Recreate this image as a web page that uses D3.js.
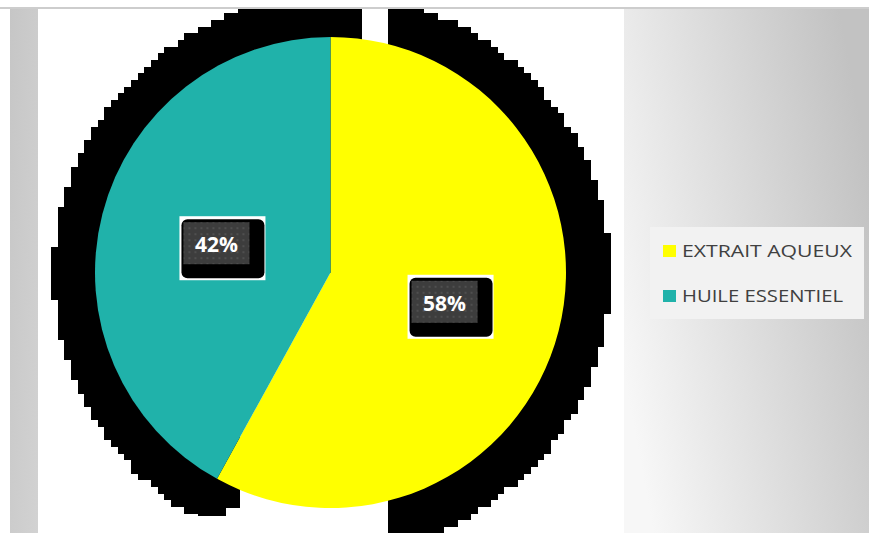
<!DOCTYPE html>
<html>
<head>
<meta charset="utf-8">
<script src="https://cdn.jsdelivr.net/npm/d3@7"></script>
<style>
  html, body { margin: 0; padding: 0; background: #fff; }
  svg { display: block; }
</style>
</head>
<body>
<svg width="869" height="533"></svg>
<script>
// chart data
const categories = ["EXTRAIT AQUEUX", "HUILE ESSENTIEL"];
const values = [58, 42];
const colors = ["#ffff00", "#20b2aa"];

const W = 869, H = 533;
const $svg = d3.select('svg');
const defs = $svg.append('defs');

// background gradient on the right side
const grad = defs.append('linearGradient').attr('id', 'bg')
    .attr('x1', 0).attr('y1', 0.7).attr('x2', 1).attr('y2', 0.3);
grad.append('stop').attr('offset', 0).attr('stop-color', '#f7f7f7');
grad.append('stop').attr('offset', 1).attr('stop-color', '#c2c2c2');

const leftGrad = defs.append('linearGradient').attr('id', 'bgLeft')
    .attr('x1', 0).attr('y1', 0).attr('x2', 1).attr('y2', 1);
leftGrad.append('stop').attr('offset', 0).attr('stop-color', '#c6c6c6');
leftGrad.append('stop').attr('offset', 1).attr('stop-color', '#d2d2d2');

// dotted fill of the label boxes
const pat = defs.append('pattern').attr('id', 'dots')
    .attr('width', 6).attr('height', 6).attr('patternUnits', 'userSpaceOnUse');
pat.append('rect').attr('width', 6).attr('height', 6).attr('fill', '#3d3d3d');
pat.append('circle').attr('cx', 3).attr('cy', 3).attr('r', 1).attr('fill', '#555');

const frame = {x: 10, y: 9};
const plot = {x0: 38, x1: 624, y0: 9, y1: H};

$svg.append('rect').attr('x', frame.x).attr('y', frame.y)
    .attr('width', plot.x0 - frame.x).attr('height', H - frame.y).attr('fill', 'url(#bgLeft)');
$svg.append('rect').attr('x', plot.x1).attr('y', frame.y)
    .attr('width', W - plot.x1).attr('height', H - frame.y).attr('fill', 'url(#bg)');
$svg.append('rect').attr('x', plot.x0).attr('y', plot.y0)
    .attr('width', plot.x1 - plot.x0).attr('height', plot.y1 - plot.y0).attr('fill', '#fff');

defs.append('clipPath').attr('id', 'plotClip').append('rect')
    .attr('x', plot.x0).attr('y', plot.y0)
    .attr('width', plot.x1 - plot.x0).attr('height', plot.y1 - plot.y0);

// pie geometry
const cx = 330.5, cy = 272.5, radius = 235.5;

// blocky black shadow: a circle sampled on a coarse grid, one rect per row
const cell = 20 / 3, gridX = 4.4;
const sx = cx + 1.5, sy = cy + 1, sr = radius * 1.184;
const rows = d3.range(0, Math.ceil(H / cell)).map((j) => {
    const yc = (j + 0.5) * cell;
    const dy = yc - sy;
    if (Math.abs(dy) > sr) return null;
    const hw = Math.sqrt(sr * sr - dy * dy);
    const i0 = Math.ceil((sx - hw - gridX) / cell - 0.5);
    const i1 = Math.floor((sx + hw - gridX) / cell - 0.5);
    return {y: j * cell, x0: gridX + i0 * cell, x1: gridX + (i1 + 1) * cell};
}).filter((d) => d && d.x1 > d.x0);

const $shadow = $svg.append('g').attr('clip-path', 'url(#plotClip)');
$shadow.selectAll('rect.row').data(rows).join('rect')
    .attr('class', 'row')
    .attr('x', (d) => d.x0).attr('y', (d) => d.y)
    .attr('width', (d) => d.x1 - d.x0).attr('height', cell + 0.3)
    .attr('fill', '#000')
    .attr('shape-rendering', 'crispEdges');

// white gaps in the shadow (above and below the pie)
const gapRight = cx + 57.5;
const gaps = [
    {x0: cx + 31.5, y0: 0, y1: cy},
    {x0: cx - 90.5, y0: cy, y1: H},
    {x0: cx - 104.5, y0: 508, y1: H},
    {x0: plot.x0, y0: 516, y1: H}
];
$shadow.selectAll('rect.gap').data(gaps).join('rect')
    .attr('class', 'gap')
    .attr('x', (d) => d.x0).attr('y', (d) => d.y0)
    .attr('width', (d) => gapRight - d.x0).attr('height', (d) => d.y1 - d.y0)
    .attr('fill', '#fff')
    .attr('shape-rendering', 'crispEdges');

// pie
const pie = d3.pie().sort(null).value((d) => d);
const arc = d3.arc().innerRadius(0).outerRadius(radius);
const arcs = pie(values);

const $pie = $svg.append('g').attr('transform', `translate(${cx},${cy})`);
$pie.selectAll('path').data(arcs).join('path')
    .attr('d', arc)
    .attr('fill', (d, i) => colors[i]);

// data labels
const total = d3.sum(values);
const fmt = (v) => Math.round(v / total * 100) + '%';
const $labels = $pie.selectAll('g.label').data(arcs).join('g')
    .attr('class', 'label')
    .attr('transform', (d) => `translate(${arc.centroid(d)})`);
$labels.append('rect').attr('x', -37).attr('y', -27).attr('width', 86).attr('height', 64).attr('fill', '#fff');
$labels.append('rect').attr('x', -35).attr('y', -24).attr('width', 83).attr('height', 59)
    .attr('rx', 6).attr('fill', '#000');
$labels.append('rect').attr('x', -33).attr('y', -21).attr('width', 66).attr('height', 42)
    .attr('fill', 'url(#dots)');
$labels.append('text')
    .attr('text-anchor', 'middle').attr('y', 9)
    .attr('font-family', "'Open Sans', sans-serif").attr('font-weight', 700)
    .attr('font-size', 21).attr('fill', '#fff')
    .text((d) => fmt(d.value));

// legend
const legend = {x: 650, y: 227, w: 214, h: 92};
const $legend = $svg.append('g');
$legend.append('rect').attr('x', legend.x).attr('y', legend.y)
    .attr('width', legend.w).attr('height', legend.h).attr('fill', '#f2f2f2');
const ly = d3.scalePoint().domain(categories).range([257, 302]);
const textWidths = [170, 161];
const $items = $legend.selectAll('g.item').data(categories).join('g')
    .attr('class', 'item')
    .attr('transform', (d) => `translate(${legend.x},${ly(d)})`);
$items.append('rect').attr('x', 13).attr('y', -12).attr('width', 13).attr('height', 12)
    .attr('fill', (d, i) => colors[i]);
$items.append('text').attr('x', 32)
    .attr('font-family', "'Open Sans', sans-serif").attr('font-size', 16.5)
    .attr('fill', '#404040')
    .attr('textLength', (d, i) => textWidths[i]).attr('lengthAdjust', 'spacingAndGlyphs')
    .text((d) => d);

// top border line
$svg.append('line').attr('x1', 0).attr('x2', W).attr('y1', 8).attr('y2', 8)
    .attr('stroke', '#bdbdbd').attr('stroke-width', 1.5);
</script>
</body>
</html>
